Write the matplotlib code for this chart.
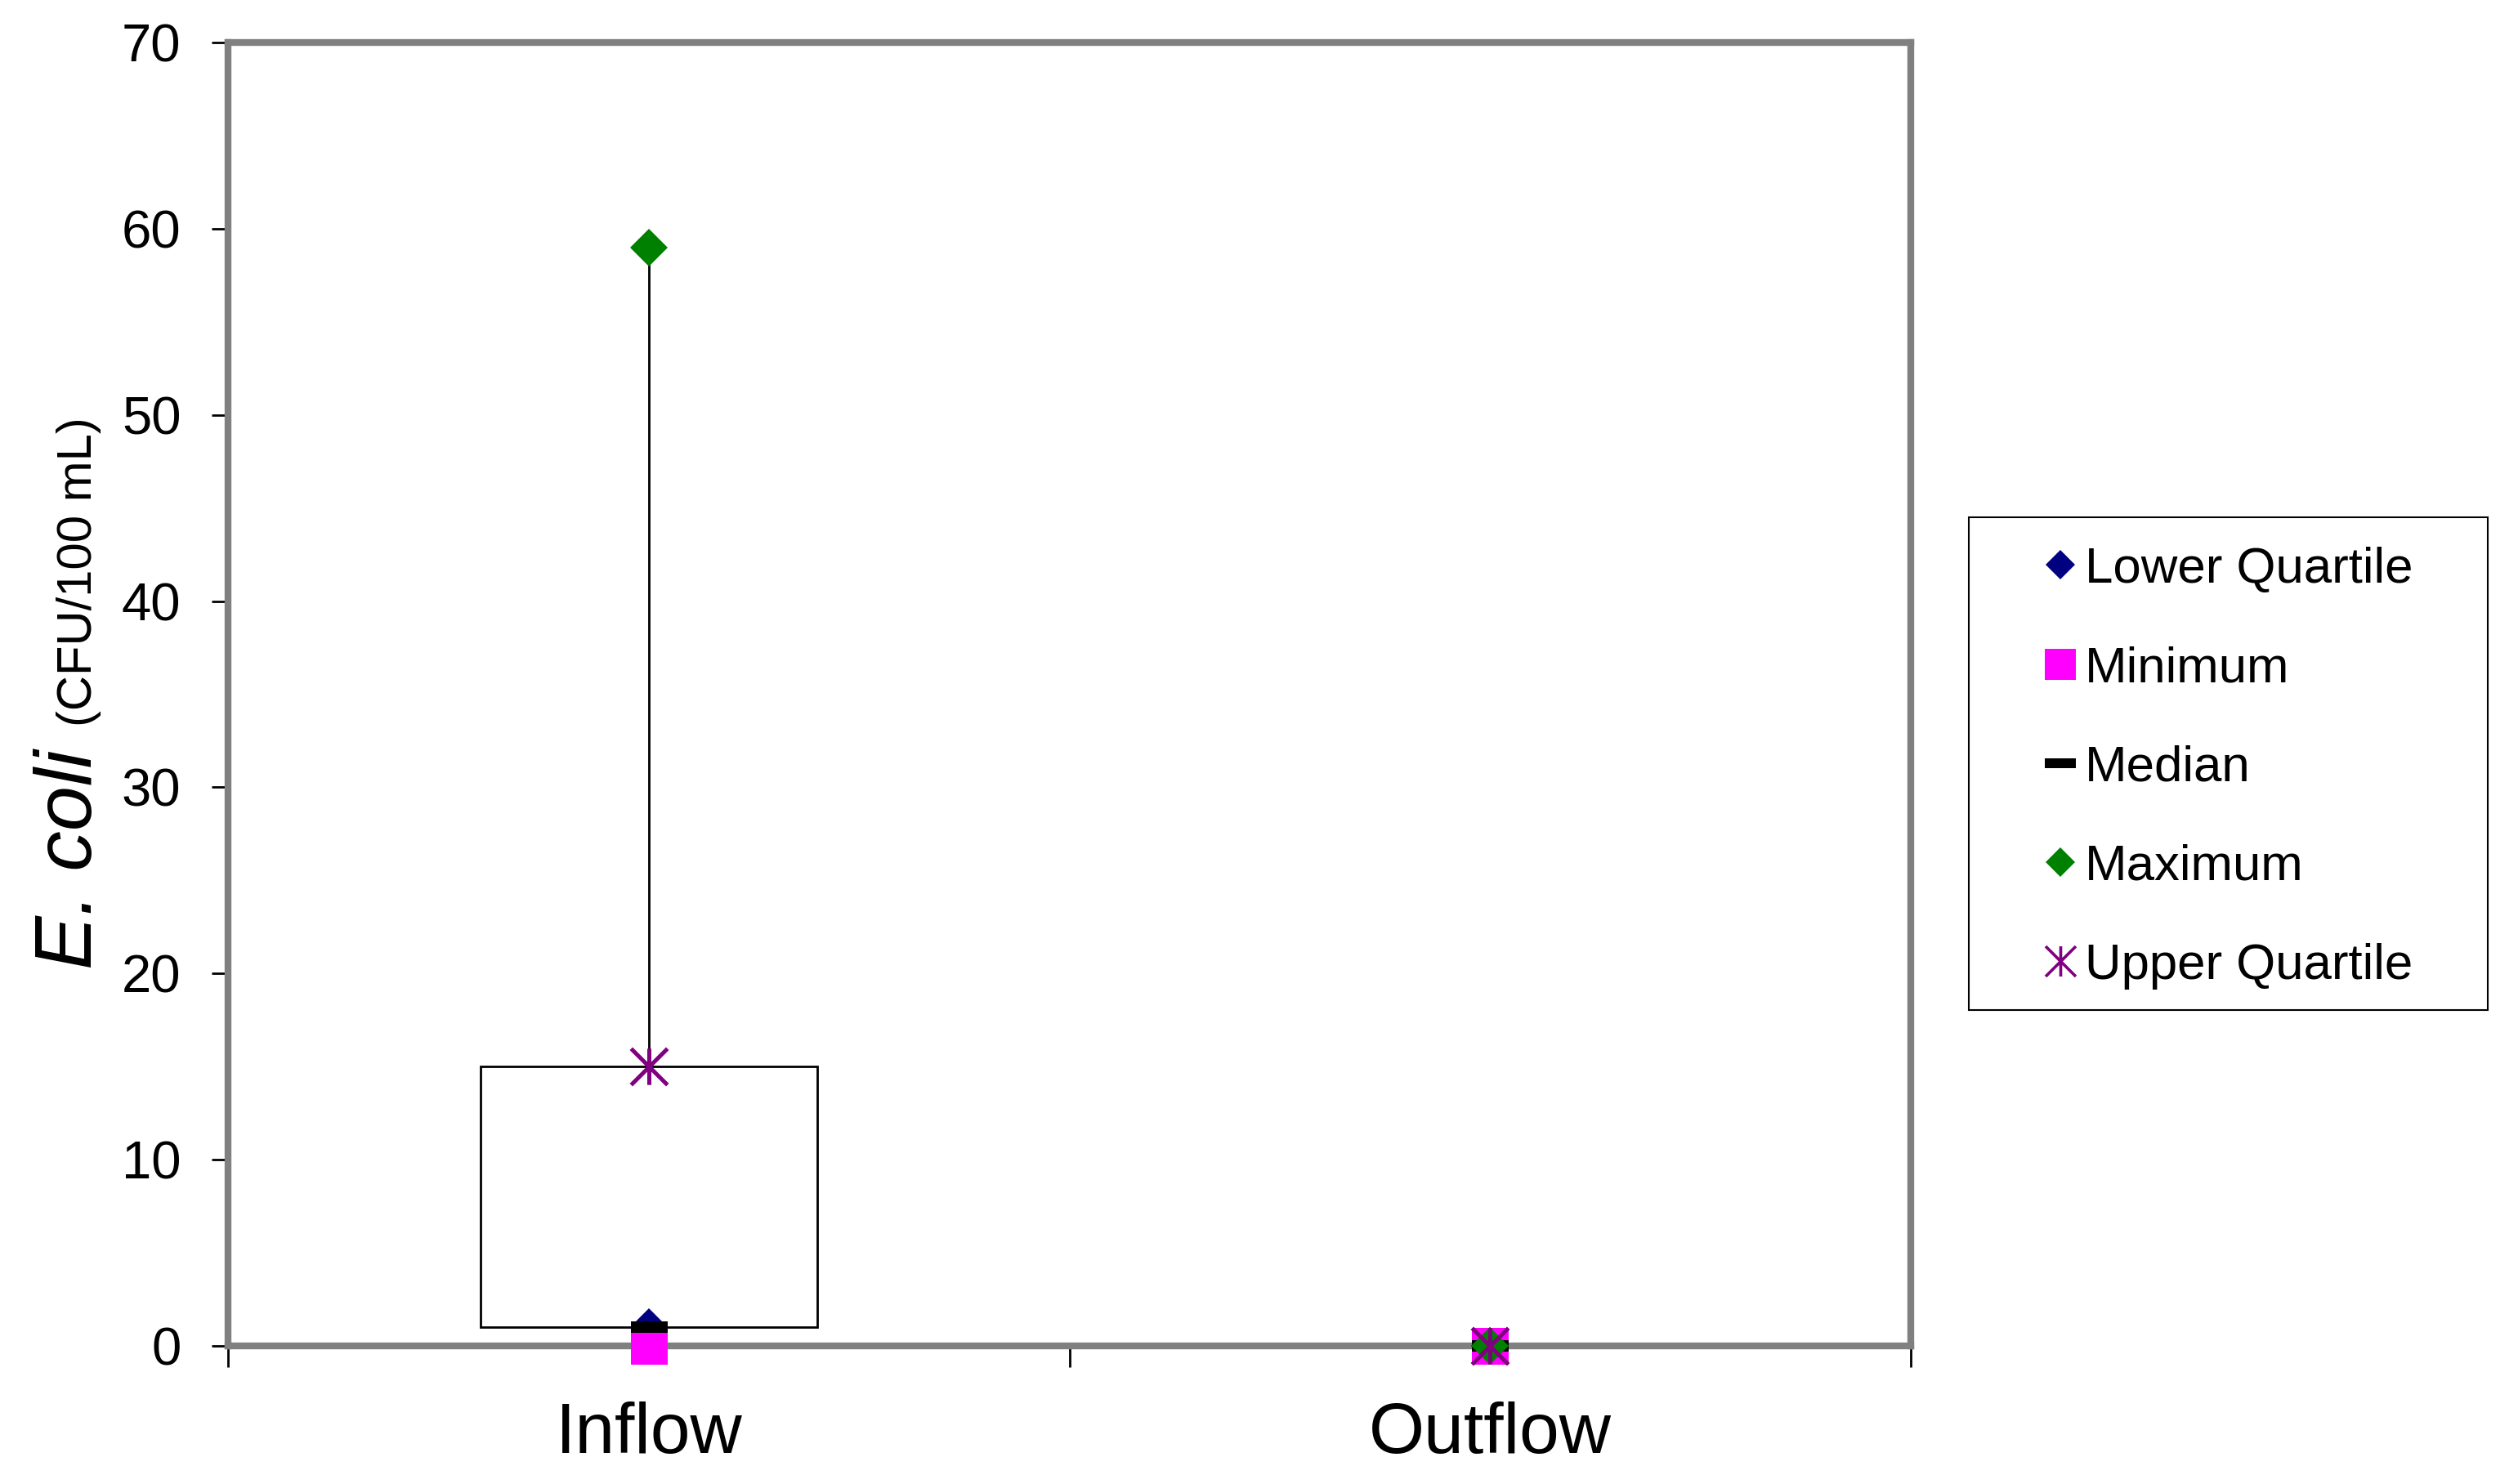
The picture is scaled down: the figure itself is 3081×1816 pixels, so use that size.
# E. coli box summary, inflow vs outflow
import numpy as np
import matplotlib.pyplot as plt
from matplotlib import font_manager
from matplotlib.path import Path
from matplotlib.patches import Rectangle
from matplotlib.lines import Line2D

# ---- data ----
categories = ['Inflow', 'Outflow']
lower_quartile = [1, 0]
minimum = [0, 0]
median = [1, 0]
maximum = [59, 0]
upper_quartile = [15, 0]
y_ticks = [0, 10, 20, 30, 40, 50, 60, 70]

plt.rcParams['font.family'] = ['Liberation Sans', 'DejaVu Sans']

W, H = 3081, 1816
fig = plt.figure(figsize=(W / 100, H / 100), dpi=100)
ax = fig.add_axes([279 / W, 1 - 1647 / H, (2338 - 279) / W, (1647 - 52) / H])

x = np.arange(1, len(categories) + 1)
half = 0.2  # half box width, in category units

# boxes + whiskers
for xi, lq, uq, lo, hi in zip(x, lower_quartile, upper_quartile, minimum, maximum):
    ax.add_patch(Rectangle((xi - half, lq), 2 * half, uq - lq, fill=False,
                           ec='black', lw=2, zorder=2, clip_on=False))
    ax.plot([xi, xi], [uq, hi], color='black', lw=2, zorder=2, clip_on=False)
    ax.plot([xi, xi], [lo, lq], color='black', lw=2, zorder=2, clip_on=False)

# excel style markers
star = Path([(0, -1), (0, 1), (-1, -1), (1, 1), (-1, 1), (1, -1)],
            [Path.MOVETO, Path.LINETO, Path.MOVETO, Path.LINETO, Path.MOVETO, Path.LINETO])
dash = [(-1, -0.29), (1, -0.29), (1, 0.29), (-1, 0.29), (-1, -0.29)]

series = [
    # label, values, marker, color, ms, legend ms, mew, legend mew
    ('Lower Quartile', lower_quartile, 'D', '#000080', 23.4, 18.8, 0, 0),
    ('Minimum', minimum, 's', '#FF00FF', 32.4, 28, 0, 0),
    ('Median', median, dash, 'black', 32.4, 28, 0, 0),
    ('Maximum', maximum, 'D', '#008000', 23.4, 18.8, 0, 0),
    ('Upper Quartile', upper_quartile, star, '#800080', 32, 26.6, 3.6, 2.6),
]

handles = []
for i, (label, vals, mk, col, ms, lms, mew, lmew) in enumerate(series):
    ax.plot(x, vals, ls='none', marker=mk, ms=ms, mew=mew, color=col,
            mfc=col if mew == 0 else 'none', mec=col, zorder=3 + i, clip_on=False)
    handles.append(Line2D([], [], ls='none', marker=mk, ms=lms, mew=lmew, color=col,
                          mfc=col if lmew == 0 else 'none', mec=col))

# axes styling
ax.set_xlim(0.5, 2.5)
ax.set_ylim(0, 70)
ax.set_yticks(y_ticks)
ax.tick_params(axis='y', length=14.4, width=2, pad=27, labelsize=47, color='black')
ax.set_xticks(x)
ax.set_xticklabels(categories)
ax.tick_params(axis='x', which='major', length=0, pad=49, labelsize=63)
ax.set_xticks([0.5, 1.5, 2.5], minor=True)
ax.tick_params(axis='x', which='minor', length=19, width=2, color='black')

for sp in ax.spines.values():
    sp.set_color('#808080')
    sp.set_linewidth(6)
ax.plot([0.5, 0.5], [0, 70], color='black', lw=2.2, clip_on=False, zorder=2.5)
ax.plot([0.5, 2.5], [0, 0], color='black', lw=2.2, clip_on=False, zorder=2.5)

# y label: italic species name + units (units look condensed in the original)
have_narrow = any(f.name == 'Liberation Sans Narrow' for f in font_manager.fontManager.ttflist)
if have_narrow:
    unit_font, unit_size = ['Liberation Sans Narrow', 'Liberation Sans'], 50
else:
    unit_font, unit_size = ['Liberation Sans', 'DejaVu Sans'], 43

fig.text(112 / W, 1 - 918 / H, 'E. coli', rotation=90, rotation_mode='anchor',
         ha='right', va='baseline', fontsize=71, style='italic')
fig.text(112 / W, 1 - 889 / H, '(CFU/100 mL)', rotation=90, rotation_mode='anchor',
         ha='left', va='baseline', fontsize=unit_size, family=unit_font)

# legend
fig.add_artist(Rectangle((2409 / W, 1 - 1236 / H), 635 / W, 603 / H,
                         transform=fig.transFigure, fill=False, ec='black', lw=1.5))
fig.legend(handles, [s[0] for s in series], loc='upper left',
           bbox_to_anchor=(2502 / W, 1 - 669 / H), frameon=False, fontsize=44.5,
           handlelength=0.6, handletextpad=0.19, labelspacing=1.04,
           borderpad=0, borderaxespad=0, numpoints=1)

fig.savefig('out.png', dpi=100)
